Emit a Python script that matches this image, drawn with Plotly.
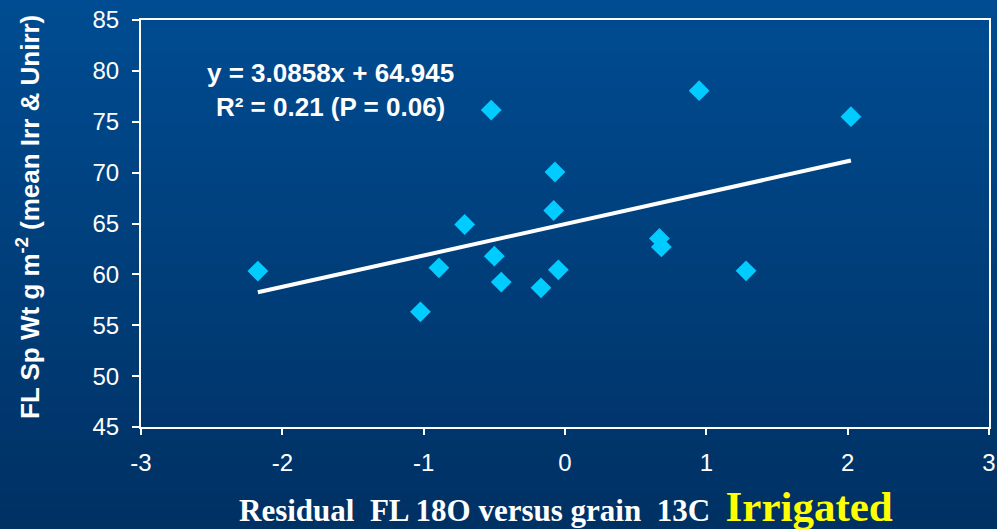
import plotly.graph_objects as go

# Data
residual_x = [-2.173, -1.023, -0.892, -0.710, -0.500, -0.451, -0.170, -0.047,
              -0.080, -0.071, -0.522, 0.949, 2.023, 0.668, 0.682, 1.281]
fl_sp_wt = [60.32, 56.32, 60.64, 64.90, 61.79, 59.24, 58.68, 60.45,
            66.28, 70.06, 76.15, 78.05, 75.50, 63.53, 62.70, 60.35]
slope = 3.0858
intercept = 64.945
x_ticks = [-3, -2, -1, 0, 1, 2, 3]
x_tick_labels = ["-3", "-2", "-1", "0", "1", "2", "3"]
y_ticks = [45, 50, 55, 60, 65, 70, 75, 80, 85]
y_tick_labels = ["45", "50", "55", "60", "65", "70", "75", "80", "85"]

W, H = 997, 529
ML, MR, MT, MB = 141, 8, 20, 102
pw, ph = W - ML - MR, H - MT - MB

fig = go.Figure()

xmin, xmax = min(residual_x), max(residual_x)
fig.add_trace(go.Scatter(
    x=[xmin, xmax], y=[slope * xmin + intercept, slope * xmax + intercept],
    mode="lines", line=dict(color="white", width=4), showlegend=False,
    hoverinfo="skip"))
fig.add_trace(go.Scatter(
    x=residual_x, y=fl_sp_wt, mode="markers",
    marker=dict(symbol="diamond", size=16, color="#00CCFF", line=dict(width=0)),
    showlegend=False))

# vertical gradient background drawn with bands
top = (0, 76, 146)
bot = (0, 49, 99)
n = 60
y0p = -MB / ph
y1p = (H - MB) / ph
shapes = []
for i in range(n):
    t = i / (n - 1)
    c = tuple(round(top[k] + (bot[k] - top[k]) * t) for k in range(3))
    ya = y1p - (y1p - y0p) * i / n
    yb = y1p - (y1p - y0p) * (i + 1) / n
    shapes.append(dict(type="rect", xref="paper", yref="paper",
                       x0=-ML / pw, x1=(W - ML) / pw, y0=yb - 0.002, y1=ya + 0.002,
                       fillcolor="rgb(%d,%d,%d)" % c, line=dict(width=0),
                       layer="below"))

annotations = [
    dict(text="<b>y = 3.0858x + 64.945</b><br><b>R² = 0.21 (P = 0.06)</b>",
         xref="paper", yref="paper", x=(330 - ML) / pw, y=(H - MB - 90) / ph,
         showarrow=False, align="center",
         font=dict(family="Liberation Sans, Arial", size=26, color="white"),
         xanchor="center", yanchor="middle"),
    dict(text="<b>FL Sp Wt g m<sup>-2</sup> (mean Irr &amp; Unirr)</b>",
         xref="paper", yref="paper", x=(29 - ML) / pw, y=(H - MB - 217) / ph,
         showarrow=False, textangle=-90,
         font=dict(family="Liberation Sans, Arial", size=26, color="white"),
         xanchor="center", yanchor="middle"),
    dict(text="<b>Residual  FL 18O versus grain  13C</b>  "
              "<span style='color:#FFFF00;font-size:43px'><b>Irrigated</b></span>",
         xref="paper", yref="paper", x=(566 - ML) / pw, y=(H - MB - 506) / ph,
         showarrow=False,
         font=dict(family="Liberation Serif, Times New Roman", size=31, color="white"),
         xanchor="center", yanchor="middle"),
]

fig.update_layout(
    width=W, height=H,
    margin=dict(l=ML, r=MR, t=MT, b=MB, autoexpand=False),
    paper_bgcolor="rgb(0,60,120)",
    plot_bgcolor="rgba(0,0,0,0)",
    shapes=shapes,
    annotations=annotations,
    font=dict(family="Liberation Sans, Arial", color="white"),
)
fig.update_xaxes(range=[-3, 3], tickvals=x_ticks, ticktext=x_tick_labels,
                 showgrid=False, zeroline=False, automargin=False,
                 showline=True, linecolor="white", linewidth=2, mirror=True,
                 ticks="outside", ticklen=6, tickwidth=2, tickcolor="white",
                 tickfont=dict(size=24, color="white"), ticklabelstandoff=7)
fig.update_yaxes(range=[45, 85], tickvals=y_ticks, ticktext=y_tick_labels,
                 showgrid=False, zeroline=False, automargin=False,
                 showline=True, linecolor="white", linewidth=2, mirror=True,
                 ticks="outside", ticklen=7, tickwidth=2, tickcolor="white",
                 tickfont=dict(size=24, color="white"), ticklabelstandoff=8)

fig.write_html("out.html")
